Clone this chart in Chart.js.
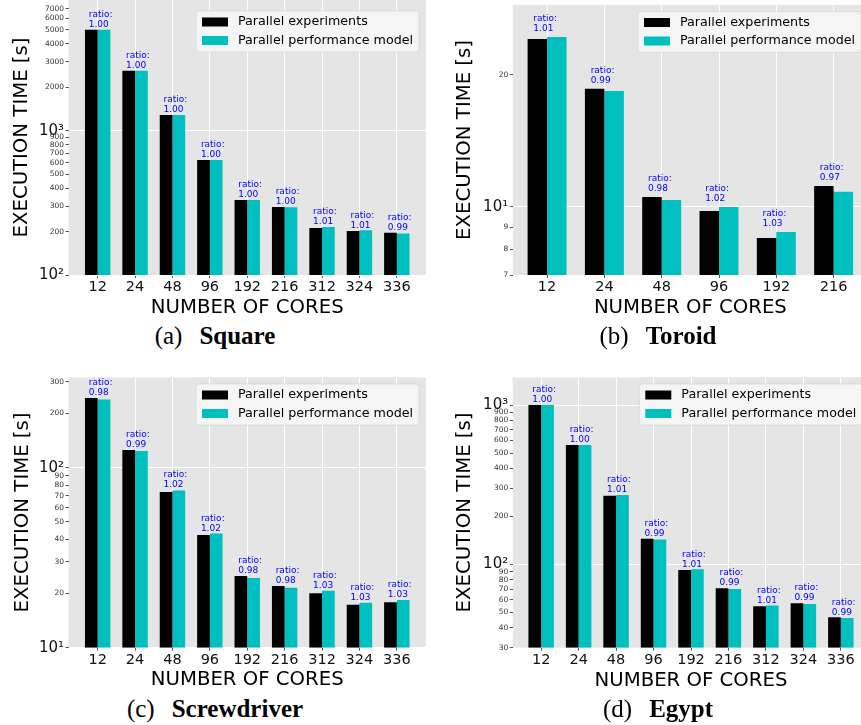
<!DOCTYPE html>
<html>
<head>
<meta charset="utf-8">
<script src="https://cdn.jsdelivr.net/npm/chart.js@4.4.1/dist/chart.umd.min.js"></script>
<style>
  html, body { margin: 0; padding: 0; background: #fff; width: 861px; height: 725px; overflow: hidden; position: relative; }
  canvas { position: absolute; }
  .cap { position: absolute; width: 430px; text-align: center; font-family: "Liberation Serif", serif; font-size: 25px; line-height: 25px; color: #000; white-space: nowrap; }
  .cap b { margin-left: 17px; }
</style>
</head>
<body>
<canvas id="square"></canvas>
<canvas id="toroid"></canvas>
<canvas id="screwdriver"></canvas>
<canvas id="egypt"></canvas>
<div class="cap" style="left:0;top:323px">(a)<b>Square</b></div>
<div class="cap" style="left:443px;top:323px">(b)<b>Toroid</b></div>
<div class="cap" style="left:0;top:696px">(c)<b>Screwdriver</b></div>
<div class="cap" style="left:443px;top:696px">(d)<b>Egypt</b></div>
<script>
// Tempi di esecuzione: esperimenti paralleli vs modello di performance (scala log)
const SERIES = ["Parallel experiments", "Parallel performance model"];
const COLORS = ["#000000", "#00BFBF"];

const squareCores = ["12", "24", "48", "96", "192", "216", "312", "324", "336"];
const squareExp   = [5000, 2600, 1285, 627, 331, 296, 212, 202, 196];
const squareModel = [5000, 2600, 1285, 627, 331, 295, 215, 204, 194];
const squareRatio = ["1.00", "1.00", "1.00", "1.00", "1.00", "1.00", "1.01", "1.01", "0.99"];
const squareTicks = [100, 200, 300, 400, 500, 600, 700, 800, 900, 1000, 2000, 3000, 4000, 5000, 6000, 7000];

const toroidCores = ["12", "24", "48", "96", "192", "216"];
const toroidExp   = [24.1, 18.56, 10.54, 9.79, 8.5, 11.16];
const toroidModel = [24.35, 18.36, 10.37, 10.0, 8.77, 10.82];
const toroidRatio = ["1.01", "0.99", "0.98", "1.02", "1.03", "0.97"];
const toroidTicks = [7, 8, 9, 10, 20];

const screwCores = ["12", "24", "48", "96", "192", "216", "312", "324", "336"];
const screwExp   = [244, 125.4, 73.3, 42.3, 25.0, 22.0, 20.1, 17.3, 17.9];
const screwModel = [239.5, 123.8, 74.8, 43.1, 24.4, 21.5, 20.7, 17.8, 18.4];
const screwRatio = ["0.98", "0.99", "1.02", "1.02", "0.98", "0.98", "1.03", "1.03", "1.03"];
const screwTicks = [10, 20, 30, 40, 50, 60, 70, 80, 90, 100, 200, 300];

const egyptCores = ["12", "24", "48", "96", "192", "216", "312", "324", "336"];
const egyptExp   = [1000, 561, 270, 145, 92.1, 70.9, 54.7, 57.1, 46.6];
const egyptModel = [1000, 561, 273, 143.5, 93.2, 70.0, 55.3, 56.5, 46.1];
const egyptRatio = ["1.00", "1.00", "1.01", "0.99", "1.01", "0.99", "1.01", "0.99", "0.99"];
const egyptTicks = [30, 40, 50, 60, 70, 80, 90, 100, 200, 300, 400, 500, 600, 700, 800, 900, 1000];

const FAMILY = '"DejaVu Sans", sans-serif';
Chart.defaults.font.family = FAMILY;

const DECADE_LABELS = { 10: "10\u00B9", 100: "10\u00B2", 1000: "10\u00B3" };
const isDecade = v => DECADE_LABELS[v] !== undefined;

// sfondo grigio stile ggplot
const plotBackground = {
  id: "plotBackground",
  beforeDraw(chart) {
    const { ctx, chartArea: a } = chart;
    ctx.save();
    ctx.fillStyle = "#E5E5E5";
    ctx.fillRect(a.left, a.top, a.right - a.left, a.bottom - a.top);
    ctx.restore();
  },
};

// etichette "ratio:" sopra ogni coppia di barre
const ratioLabels = {
  id: "ratioLabels",
  afterDatasetsDraw(chart, args, opts) {
    const { ctx, scales: { x, y } } = chart;
    const a = chart.data.datasets[0].data, b = chart.data.datasets[1].data;
    ctx.save();
    ctx.fillStyle = "#0000FF";
    ctx.font = "9px " + FAMILY;
    ctx.textAlign = "left";
    ctx.textBaseline = "alphabetic";
    opts.labels.forEach((txt, i) => {
      const top = Math.max(a[i].y, b[i].y);
      const px = x.getPixelForValue(i - 0.24);
      const py = y.getPixelForValue(top * 1.025) - 1;
      ctx.fillText("ratio:", px, py - 10);
      ctx.fillText(txt, px, py);
    });
    ctx.restore();
  },
};

// legenda dentro l'area del grafico, in alto a destra
const insideLegend = {
  id: "insideLegend",
  afterDraw(chart, args, opts) {
    const { ctx, chartArea } = chart;
    const w = 223, h = 41;
    const x0 = chartArea.right - 7 - w, y0 = chartArea.top + opts.top;
    ctx.save();
    ctx.beginPath();
    ctx.roundRect(x0, y0, w, h, 3);
    ctx.fillStyle = "#F5F5F5";
    ctx.fill();
    ctx.strokeStyle = "rgba(204,204,204,0.5)";
    ctx.lineWidth = 1;
    ctx.stroke();
    ctx.font = "12.7px " + FAMILY;
    ctx.textBaseline = "middle";
    ctx.textAlign = "left";
    chart.data.datasets.forEach((ds, i) => {
      const cy = y0 + 11 + i * 18.5;
      ctx.fillStyle = ds.backgroundColor;
      ctx.fillRect(x0 + 6, cy - 4.5, 26, 9);
      ctx.fillStyle = "#000";
      ctx.fillText(ds.label, x0 + 42, cy);
    });
    ctx.restore();
  },
};

function makePanel(id, p) {
  const canvas = document.getElementById(id);
  const half = 11.82; // meta altezza riga dei titoli degli assi
  const W = Math.ceil(p.plotRight + 8 - p.left);
  const H = Math.ceil(p.xTitleY + half - p.top) + 1;
  canvas.width = W;
  canvas.height = H;
  canvas.style.left = p.left + "px";
  canvas.style.top = p.top + "px";
  const padLeft = p.yTitleX - half - p.left;
  const yWidth = p.plotLeft - p.left - padLeft;
  const xHeight = H - (p.plotBottom - p.top);
  const titleBottom = p.top + H - half - p.xTitleY;

  new Chart(canvas, {
    type: "bar",
    data: {
      datasets: [p.exp, p.model].map((vals, k) => ({
        label: SERIES[k],
        data: vals.map((v, i) => ({ x: i, y: v })),
        backgroundColor: COLORS[k],
        borderWidth: 0,
        categoryPercentage: 0.68,
        barPercentage: 1,
      })),
    },
    options: {
      responsive: false,
      animation: false,
      events: [],
      devicePixelRatio: 1,
      layout: {
        padding: { left: padLeft, right: W - (p.plotRight - p.left), top: p.plotTop - p.top, bottom: 0 },
      },
      plugins: {
        legend: { display: false },
        tooltip: { enabled: false },
        ratioLabels: { labels: p.ratio },
        insideLegend: { top: p.legendTop },
      },
      scales: {
        x: {
          type: "linear",
          min: p.xmin,
          max: p.xmax,
          bounds: "data",
          offset: false,
          afterBuildTicks: s => { s.ticks = p.cores.map((_, i) => ({ value: i })); },
          afterFit: s => { s.height = xHeight; s.paddingLeft = 0; s.paddingRight = 0; },
          grid: { offset: false, color: "#FFFFFF", lineWidth: 1, tickLength: 3, tickColor: "#555" },
          border: { display: false },
          ticks: {
            autoSkip: false,
            maxRotation: 0,
            padding: 1,
            color: "#111",
            font: { size: 14.5 },
            callback: (v, i) => p.cores[i],
          },
          title: {
            display: true,
            text: "NUMBER OF CORES",
            color: "#000",
            font: { size: 19.7, lineHeight: 1.2 },
            padding: { top: 0, bottom: titleBottom },
          },
        },
        y: {
          type: "logarithmic",
          min: p.ymin,
          max: p.ymax,
          bounds: "data",
          afterBuildTicks: s => { s.ticks = p.ticks.map(v => ({ value: v })); },
          afterFit: s => { s.width = yWidth; s.paddingTop = 0; s.paddingBottom = 0; },
          grid: {
            color: c => (c.tick && isDecade(c.tick.value) ? "#FFFFFF" : "rgba(0,0,0,0)"),
            lineWidth: 1,
            tickLength: 3,
            tickColor: "#555",
          },
          border: { display: false },
          ticks: {
            autoSkip: false,
            padding: 1.5,
            color: c => (c.tick && isDecade(c.tick.value) ? "#111" : "#333"),
            font: c => (c.tick && isDecade(c.tick.value) ? { size: 15 } : { size: 7.5 }),
            callback: v => DECADE_LABELS[v] || String(v),
          },
          title: {
            display: true,
            text: "EXECUTION TIME [s]",
            color: "#000",
            font: { size: 19.7, lineHeight: 1.2 },
            padding: { top: 0, bottom: 0 },
          },
        },
      },
    },
    plugins: [plotBackground, ratioLabels, insideLegend],
  });
}

makePanel("square", {
  left: 0, top: 0, plotLeft: 68.5, plotRight: 426, plotTop: 0, plotBottom: 275,
  yTitleX: 22, xTitleY: 308, xmin: -0.78, xmax: 8.78, ymin: 100, ymax: 8050, legendTop: 11,
  cores: squareCores, exp: squareExp, model: squareModel, ratio: squareRatio, ticks: squareTicks,
});
makePanel("toroid", {
  left: 430, top: 0, plotLeft: 512.7, plotRight: 868, plotTop: 5, plotBottom: 275,
  yTitleX: 465, xTitleY: 308, xmin: -0.6, xmax: 5.6, ymin: 7, ymax: 28.8, legendTop: 6.5,
  cores: toroidCores, exp: toroidExp, model: toroidModel, ratio: toroidRatio, ticks: toroidTicks,
});
makePanel("screwdriver", {
  left: 0, top: 365, plotLeft: 68.5, plotRight: 426, plotTop: 377.3, plotBottom: 647.7,
  yTitleX: 22.5, xTitleY: 680, xmin: -0.78, xmax: 8.78, ymin: 10, ymax: 318, legendTop: 6.7,
  cores: screwCores, exp: screwExp, model: screwModel, ratio: screwRatio, ticks: screwTicks,
});
makePanel("egypt", {
  left: 430, top: 365, plotLeft: 512.7, plotRight: 869.3, plotTop: 377.3, plotBottom: 647.7,
  yTitleX: 465, xTitleY: 680.5, xmin: -0.76, xmax: 8.76, ymin: 30, ymax: 1494, legendTop: 6.7,
  cores: egyptCores, exp: egyptExp, model: egyptModel, ratio: egyptRatio, ticks: egyptTicks,
});
</script>
</body>
</html>
